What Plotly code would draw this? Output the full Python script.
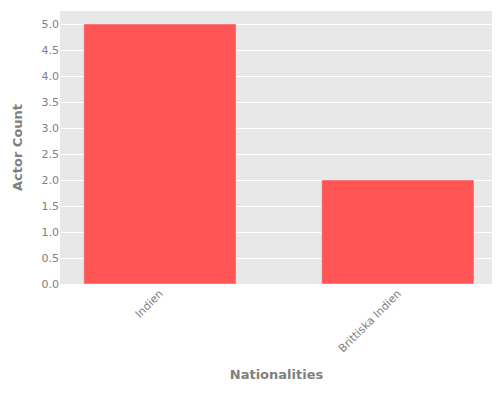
import plotly.graph_objects as go

categories = ["Indien", "Brittiska Indien"]
counts = [5, 2]

fig = go.Figure(go.Bar(x=categories, y=counts, marker_color="#FF5555", width=0.64))
fig.update_layout(
    width=500, height=400,
    margin=dict(l=52, r=15, t=3, b=124),
    paper_bgcolor="white", plot_bgcolor="#E8E8E8",
    font=dict(family="DejaVu Sans", color="#808080", size=11),
    showlegend=False,
)
fig.update_xaxes(title_text="<b>Nationalities</b>", title_font=dict(size=13), tickangle=-45,
                 range=[-0.42, 1.4], showgrid=False, automargin=False)
fig.update_yaxes(title_text="<b>Actor Count</b>", title_font=dict(size=13), range=[0, 5.25],
                 dtick=0.5, tickformat=".1f", gridcolor="white", zeroline=False, automargin=False)
fig.write_html("out.html")
